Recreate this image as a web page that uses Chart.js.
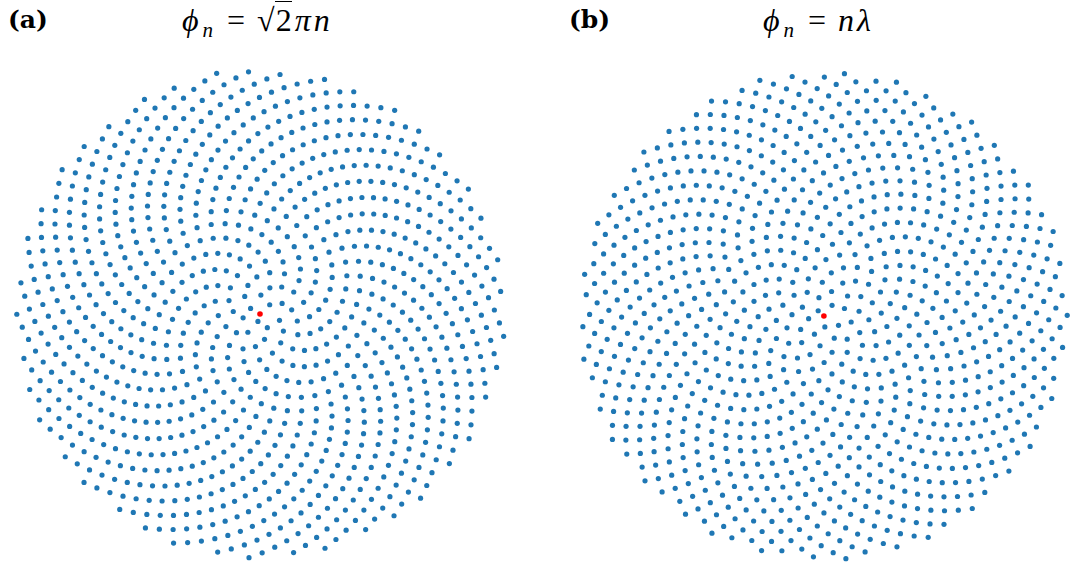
<!DOCTYPE html>
<html>
<head>
<meta charset="utf-8">
<script src="https://cdn.jsdelivr.net/npm/chart.js@4/dist/chart.umd.min.js"></script>
<style>
  html, body { margin: 0; padding: 0; background: #fff; overflow: hidden; }
  body { width: 1070px; height: 570px; position: relative; }
  canvas { position: absolute; }
  .label { position: absolute; font-family: "DejaVu Serif", serif; font-weight: bold; font-size: 25px; top: 5px; }
  .title { position: absolute; font-family: "Liberation Serif", "DejaVu Serif", serif; font-size: 32px; top: 2px; white-space: nowrap; }
  .title sub { font-size: 21px; vertical-align: -6px; line-height: 0; margin-left: 1px; }
  .title .eq { margin: 0 12px 0 11px; }
  .title i { letter-spacing: 3px; }
  .root { border-top: 1.5px solid #000; padding-left: 1px; margin-right: 3px; }
</style>
</head>
<body>
<div class="label" style="left:8px">(a)</div>
<div class="title" style="left:182px"><i>ϕ</i><sub><i>n</i></sub><span class="eq">=</span>√<span class="root">2</span><i>πn</i></div>
<div class="label" style="left:569px">(b)</div>
<div class="title" style="left:763px"><i>ϕ</i><sub><i>n</i></sub><span class="eq">=</span><i>nλ</i></div>
<canvas id="chartA" width="520" height="520" style="left:0px;top:54px"></canvas>
<canvas id="chartB" width="506" height="520" style="left:564px;top:56px"></canvas>
<script>
// NOTE: the ~2000 dots are generated from the rule printed in each panel title
// (radius sqrt(n), angle phi_n), not read off the picture one by one.
const N_POINTS = 1000;
const ANGLE_A = Math.SQRT2 * Math.PI;          // phi_n = sqrt(2) * pi * n
const ANGLE_B = Math.PI * (3 - Math.sqrt(5));  // lambda = golden angle
const CENTER_POINT = [{ x: 0, y: 0 }];
const DOT_BLUE = '#1f77b4';
const DOT_RED = '#ff0000';

function spiral(angle) {
    const pts = [];
    for (let n = 1; n < N_POINTS; n++) {
        const r = Math.sqrt(n);
        pts.push({ x: r * Math.cos(n * angle), y: r * Math.sin(n * angle) });
    }
    return pts;
}

const pointsA = spiral(ANGLE_A);
const pointsB = spiral(ANGLE_B);

const PX_PER_UNIT = 7.87;

function makeChart(id, points, xMax) {
    const half = 260 / PX_PER_UNIT;
    return new Chart(document.getElementById(id), {
        type: 'scatter',
        data: {
            datasets: [
                { data: CENTER_POINT, backgroundColor: DOT_RED, pointRadius: 2.8, borderWidth: 0, clip: false },
                { data: points, backgroundColor: DOT_BLUE, pointRadius: 2.6, borderWidth: 0, clip: false },
            ],
        },
        options: {
            responsive: false,
            animation: false,
            devicePixelRatio: 1,
            layout: { padding: 0 },
            plugins: { legend: { display: false }, tooltip: { enabled: false } },
            scales: {
                x: { display: false, min: -half, max: xMax },
                y: { display: false, min: -half, max: half },
            },
        },
    });
}

makeChart('chartA', pointsA, 260 / PX_PER_UNIT);
makeChart('chartB', pointsB, 246 / PX_PER_UNIT);
</script>
</body>
</html>
